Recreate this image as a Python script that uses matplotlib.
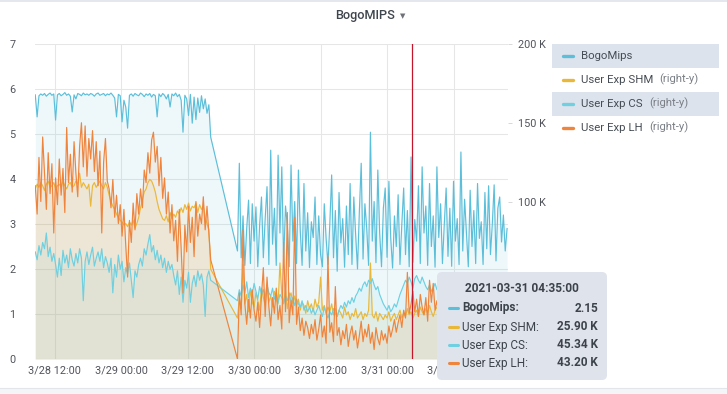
import matplotlib
matplotlib.use('Agg')
import matplotlib.pyplot as plt
import matplotlib.dates as mdates
import matplotlib.patches as mpatches
import matplotlib.lines as mlines
import matplotlib.ticker as mticker
import numpy as np
import pandas as pd

plt.rcParams['font.family'] = ['Roboto', 'DejaVu Sans']

# ---------------- data ----------------
title = "BogoMIPS"
seg1_start = "2021-03-28 08:30"   # first run of samples
seg2_start = "2021-03-29 21:00"   # second run of samples (after gap)
sample_step = "20min"
seg1_len = 96

# BogoMips (left axis), value x 100
bogomips_x100 = [
    587, 538, 585, 589, 586, 590, 584, 588, 591, 586,
    589, 531, 587, 590, 585, 588, 592, 586, 589, 584,
    549, 587, 578, 590, 588, 585, 591, 587, 589, 586,
    590, 588, 584, 589, 591, 586, 588, 590, 585, 589,
    587, 591, 586, 580, 538, 588, 585, 527, 575, 560,
    513, 586, 589, 584, 590, 587, 585, 591, 588, 583,
    589, 586, 590, 582, 588, 585, 538, 589, 583, 590,
    586, 578, 588, 560, 589, 585, 591, 583, 588, 575,
    504, 586, 578, 541, 588, 524, 582, 532, 580, 548,
    585, 556, 578, 546, 565, 493,
    # second run
    240, 435, 225, 318, 208, 290, 353, 212, 345, 262,
    338, 205, 298, 360, 225, 312, 383, 210, 464, 255,
    335, 208, 453, 280, 427, 215, 340, 296, 205, 431,
    262, 350, 212, 420, 285, 208, 390, 240, 325, 203,
    305, 270, 360, 210, 318, 232, 205, 345, 268, 210,
    300, 409, 225, 330, 195, 370, 258, 312, 204, 340,
    232, 390, 210, 360, 276, 200, 328, 435, 222, 345,
    290, 208, 504, 262, 350, 214, 420, 280, 205, 335,
    380, 226, 395, 268, 202, 318, 250, 365, 210, 300,
    380, 232, 330, 205, 449, 215, 310, 262, 385, 212,
    427, 280, 340, 208, 390, 250, 318, 204, 427, 270,
    345, 212, 300, 380, 228, 335, 206, 395, 262, 312,
    210, 460, 240, 355, 278, 205, 375, 250, 330, 212,
    390, 268, 305, 210, 370, 245, 385, 232, 300, 387,
    218, 335, 360, 260, 320, 240, 290,
]

# right-axis series, in K
user_exp_shm_k = [
    108, 111, 109, 112, 110, 107, 111, 113, 109, 110,
    112, 108, 110, 111, 109, 113, 110, 108, 111, 112,
    109, 110, 113, 111, 118, 109, 112, 110, 108, 111,
    97, 110, 112, 109, 111, 113, 110, 108, 112, 109,
    104, 100, 97, 95, 92, 90, 88, 87, 85, 86,
    84, 87, 85, 88, 83, 86, 90, 96, 101, 106,
    108, 112, 114, 113, 110, 106, 100, 95, 92, 89,
    88, 91, 87, 93, 89, 92, 90, 94, 92, 96,
    93, 98, 95, 99, 94, 97, 96, 99, 93, 98,
    95, 97, 90, 86, 82, 57,
    # second run
    26, 38, 32, 60, 35, 41, 30, 44, 36, 33,
    42, 37, 31, 45, 39, 34, 47, 36, 40, 33,
    43, 38, 35, 61, 41, 36, 44, 32, 39, 42,
    35, 40, 33, 38, 31, 36, 34, 29, 37, 32,
    35, 30, 38, 33, 36, 52, 31, 34, 29, 33,
    30, 35, 28, 32, 27, 31, 29, 26, 33, 28,
    30, 25, 29, 27, 32, 26, 28, 30, 25, 29,
    27, 31, 61, 28, 26, 30, 24, 29, 27, 25,
    28, 26, 30, 24, 27, 29, 25, 28, 31, 26,
    29, 27, 32, 28, 30, 26, 29, 31, 27, 33,
    30, 28, 32, 29, 34, 30, 27, 31, 33, 29,
    32, 30, 35, 31, 28, 33, 30, 34, 29, 32,
    31, 35, 30, 33, 28, 32, 34, 30, 33, 31,
    29, 34, 32, 30, 35, 31, 33, 29, 32, 30,
    34, 31, 33, 30, 32, 29, 31,
]

user_exp_cs_k = [
    68, 63, 72, 66, 74, 70, 80, 65, 71, 62,
    67, 60, 52, 64, 53, 69, 61, 66, 58, 70,
    63, 59, 67, 61, 70, 64, 37, 62, 68, 60,
    66, 71, 59, 64, 68, 62, 70, 58, 65, 61,
    55, 64, 42, 60, 52, 66, 57, 62, 49, 58,
    54, 61, 50, 39, 56, 52, 60, 64, 59, 70,
    66, 73, 79, 68, 72, 63, 69, 61, 66, 58,
    64, 55, 62, 57, 60, 53, 47, 56, 41, 52,
    36, 50, 45, 55, 36, 48, 53, 46, 56, 50,
    54, 47, 27, 52, 56, 50,
    # second run
    37, 44, 40, 47, 42, 49, 39, 45, 41, 48,
    43, 38, 46, 41, 44, 39, 47, 42, 40, 45,
    38, 42, 36, 41, 39, 35, 40, 37, 42, 36,
    39, 34, 38, 35, 33, 37, 31, 34, 30, 33,
    29, 32, 28, 31, 34, 30, 27, 33, 29, 26,
    30, 28, 32, 29, 27, 31, 34, 32, 36, 33,
    37, 35, 39, 36, 40, 42, 45, 43, 47, 49,
    46, 50, 48, 51, 47, 44, 46, 41, 38, 35,
    33, 31, 34, 30, 32, 35, 33, 37, 41, 44,
    47, 50, 48, 52, 49, 45, 51, 53, 50, 48,
    52, 49, 46, 44, 47, 43, 45, 48, 44, 46,
    42, 45, 48, 44, 47, 50, 46, 43, 45, 49,
    47, 44, 42, 46, 48, 45, 43, 47, 50, 46,
    44, 48, 45, 42, 46, 49, 47, 44, 43, 46,
    48, 45, 42, 44, 47, 45, 43,
]

user_exp_lh_k = [
    110, 92, 128, 100, 141, 118, 95, 131, 105, 124,
    80, 115, 98, 127, 104, 121, 93, 147, 112, 130,
    106, 138, 118, 103, 135, 150, 122, 148, 116, 140,
    127, 145, 119, 138, 110, 132, 80, 125, 140, 113,
    108, 96, 114, 90, 104, 86, 98, 78, 95, 72,
    52, 88, 74, 99, 82, 105, 92, 108, 96, 120,
    112, 131, 118, 139, 144, 125, 135, 110, 128, 102,
    115, 92, 106, 80, 98, 75, 88, 62, 95, 70,
    42, 85, 68, 97, 74, 90, 65, 100, 78, 92,
    86, 103, 82, 97, 80, 63,
    # second run
    0, 42, 28, 82, 35, 22, 38, 26, 44, 31,
    24, 36, 20, 40, 58, 27, 52, 33, 21, 39,
    29, 45, 25, 34, 19, 74, 30, 93, 23, 37,
    28, 90, 22, 33, 18, 26, 15, 24, 20, 13,
    22, 16, 25, 12, 19, 28, 14, 21, 10, 65,
    17, 23, 11, 46, 15, 20, 9, 18, 13, 22,
    8, 16, 21, 12, 18, 7, 15, 24, 11, 19,
    14, 22, 10, 17, 6, 20, 13, 9, 18, 12,
    16, 10, 21, 14, 19, 25, 17, 23, 28, 20,
    31, 26, 55, 29, 35, 43, 30, 38, 27, 41,
    33, 28, 39, 24, 50, 36, 48, 31, 37, 29,
    35, 40, 32, 38, 27, 34, 41, 30, 36, 33,
    39, 28, 35, 42, 31, 37, 29, 34, 40, 32,
    36, 30, 38, 33, 27, 35, 39, 31, 34, 37,
    30, 36, 32, 38, 29, 35, 33,
]

series_names = ["BogoMips", "User Exp SHM", "User Exp CS", "User Exp LH"]
series_right = [False, True, True, True]
series_colors = ["#5cbfda", "#eab839", "#6ed0e0", "#ef843c"]
legend_highlight = [True, False, True, False]

left_ticks = [0, 1, 2, 3, 4, 5, 6, 7]
# right-axis ticks visible beside the tooltip (0 and 50 K sit behind it)
right_ticks = [100, 150, 200]
right_tick_labels = ["100 K", "150 K", "200 K"]

x_start = "2021-03-28 08:27"
x_end = "2021-03-31 21:50"
cursor_time = "2021-03-31 04:35"
tooltip_header = "2021-03-31 04:35:00"
tooltip_values = ["2.15", "25.90 K", "45.34 K", "43.20 K"]

# ---------------- build ----------------
n2 = len(bogomips_x100) - seg1_len
times = pd.date_range(seg1_start, periods=seg1_len, freq=sample_step).append(
    pd.date_range(seg2_start, periods=n2, freq=sample_step))
bogo = np.array(bogomips_x100) / 100.0
right_series = [np.array(user_exp_shm_k) * 1000.0,
                np.array(user_exp_cs_k) * 1000.0,
                np.array(user_exp_lh_k) * 1000.0]

W, H = 727, 394
fig = plt.figure(figsize=(W / 100, H / 100), dpi=100)
fig.patch.set_facecolor("white")

def fx(x):
    return x / W

def fy(y):
    return 1 - y / H

ax = fig.add_axes([fx(35), fy(359), (508 - 35) / W, (359 - 44) / H])
ax2 = ax.twinx()

tick_color = "#52545c"
grid_color = "#e6e6e6"

# left series
ax.fill_between(times, 0, bogo, color=series_colors[0], alpha=0.1, lw=0)
ax.plot(times, bogo, color=series_colors[0], lw=0.85)

# right series
for vals, col in zip(right_series, series_colors[1:]):
    ax2.fill_between(times, 0, vals, color=col, alpha=0.1, lw=0)
    ax2.plot(times, vals, color=col, lw=0.85)

ax2.axvline(pd.Timestamp(cursor_time), color="#c4162a", lw=0.9, zorder=5)

ax.set_xlim(pd.Timestamp(x_start), pd.Timestamp(x_end))
ax.set_ylim(0, 7)
ax2.set_ylim(0, 200000)

ax.set_yticks(left_ticks)
ax.set_yticklabels([str(t) for t in left_ticks])
ax2.set_yticks([t * 1000 for t in right_ticks])
ax2.set_yticklabels(right_tick_labels)

ax.xaxis.set_major_locator(mdates.HourLocator(byhour=[0, 12]))
ax.xaxis.set_major_formatter(mticker.FuncFormatter(
    lambda v, p: (lambda d: f"{d.month}/{d.day} {d:%H:%M}")(mdates.num2date(v))))

ax.grid(True, color=grid_color, lw=0.75)
ax.set_axisbelow(True)
for a in (ax, ax2):
    for s in a.spines.values():
        s.set_visible(False)

ax.tick_params(axis="y", length=0, pad=14.2, labelsize=7.8, labelcolor=tick_color)
ax.tick_params(axis="x", length=0, pad=5, labelsize=7.8, labelcolor=tick_color)
ax2.tick_params(axis="y", length=3, width=0.7, color="#d8d8d8", pad=4.2,
                labelsize=7.8, labelcolor=tick_color)

# ---------------- title ----------------
fig.text(fx(365.5), fy(16), title, ha="center", va="center", fontsize=9.2,
         color="#3f454d", fontweight="medium")
fig.text(fx(403), fy(16), "\u25bc", ha="center", va="center", fontsize=5,
         color="#6e7178", family=["DejaVu Sans"])

# panel borders
fig.add_artist(mpatches.Rectangle((0, 0), 1, fy(388), transform=fig.transFigure,
                                  facecolor="#f4f5f7", edgecolor="none", zorder=-1))
fig.add_artist(mlines.Line2D([0, 1], [fy(388), fy(388)], transform=fig.transFigure,
                             color="#e2e5ea", lw=0.8))
fig.add_artist(mlines.Line2D([0, 1], [fy(0.8), fy(0.8)], transform=fig.transFigure,
                             color="#dfe3ea", lw=1.2))

# ---------------- legend ----------------
inch = fig.dpi_scale_trans
legend_rows_y = [56, 80, 104, 128]
for name, col, right, hl, yy in zip(series_names, series_colors, series_right,
                                    legend_highlight, legend_rows_y):
    if hl:
        fig.add_artist(mpatches.Rectangle((552 / 100, (H - yy - 12) / 100), 167 / 100, 24 / 100,
                                          transform=inch, facecolor="#dde3ec",
                                          edgecolor="none", zorder=1))
    fig.add_artist(mlines.Line2D([fx(563), fx(573)], [fy(yy), fy(yy)],
                                 transform=fig.transFigure, color=col, lw=2.4,
                                 solid_capstyle="round", zorder=2))
    t = fig.text(fx(581), fy(yy), name, ha="left", va="center", fontsize=8.2,
                 color="#464c54", zorder=3)
    if right:
        fig.add_artist(plt.Annotation("(right-y)", xy=(1, 0), xycoords=t,
                                      xytext=(4.5, 0), textcoords="offset points",
                                      ha="left", va="bottom", fontsize=8.2,
                                      color="#7b8087", zorder=3))

# ---------------- tooltip ----------------
tip = mpatches.FancyBboxPatch((437 / 100, (H - 380) / 100), 170 / 100, 108 / 100,
                              boxstyle="round,pad=0,rounding_size=0.05",
                              transform=inch, facecolor="#dee3ec",
                              edgecolor="none", zorder=10)
fig.add_artist(tip)
fig.text(fx(522), fy(288), tooltip_header, ha="center", va="center",
         fontsize=8.6, fontweight="bold", color="#3d434b", zorder=11)
tip_rows_y = [308, 327, 345, 363]
for i, (name, col, val, yy) in enumerate(zip(series_names, series_colors,
                                             tooltip_values, tip_rows_y)):
    fig.add_artist(mlines.Line2D([fx(449), fx(458)], [fy(yy), fy(yy)],
                                 transform=fig.transFigure, color=col, lw=2.2,
                                 solid_capstyle="round", zorder=11))
    fig.text(fx(462), fy(yy), name + ":", ha="left", va="center", fontsize=8.5,
             fontweight="bold" if i == 0 else "normal", color="#3d434b", zorder=11)
    fig.text(fx(598), fy(yy), val, ha="right", va="center", fontsize=8.5,
             fontweight="bold", color="#3d434b", zorder=11)

fig.savefig("out.png", dpi=100)
